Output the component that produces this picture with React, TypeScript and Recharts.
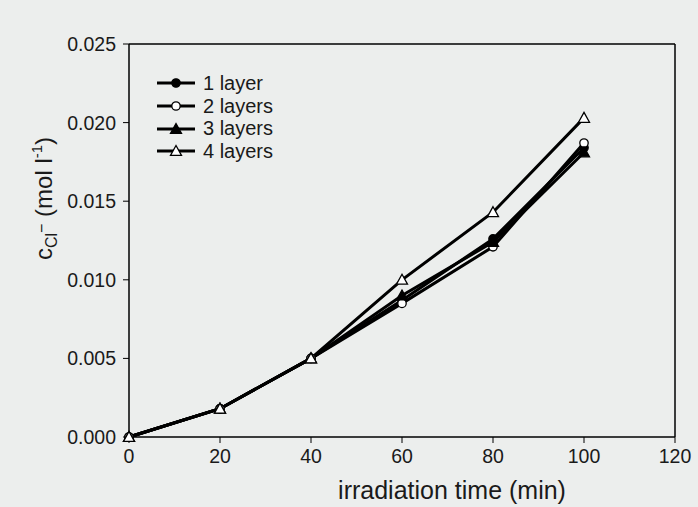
import { LineChart, Line, XAxis, YAxis, Legend, ReferenceLine } from 'recharts';

const times = [0, 20, 40, 60, 80, 100];
const layer1 = [0, 0.0018, 0.005, 0.0087, 0.0126, 0.0184];
const layer2 = [0, 0.0018, 0.005, 0.0085, 0.0121, 0.0187];
const layer3 = [0, 0.0018, 0.005, 0.009, 0.0124, 0.0181];
const layer4 = [0, 0.0018, 0.005, 0.01, 0.0143, 0.0203];
const xTicks = [0, 20, 40, 60, 80, 100, 120];
const yTicks = [0, 0.005, 0.01, 0.015, 0.02, 0.025];

const series = [
  { key: 'l1', name: '1 layer', shape: 'circle', filled: true },
  { key: 'l2', name: '2 layers', shape: 'circle', filled: false },
  { key: 'l3', name: '3 layers', shape: 'triangle', filled: true },
  { key: 'l4', name: '4 layers', shape: 'triangle', filled: false },
];

const data = times.map((t, i) => ({ t, l1: layer1[i], l2: layer2[i], l3: layer3[i], l4: layer4[i] }));

const FONT = '"Liberation Sans", Arial, sans-serif';
const INK = '#1a1a1a';
const BG = '#eceeed';

function Marker({ cx, cy, shape, filled }: { cx: number; cy: number; shape: string; filled: boolean }) {
  const fill = filled ? '#000' : '#fff';
  if (shape === 'circle') {
    return <circle cx={cx} cy={cy} r={4.2} fill={fill} stroke="#000" strokeWidth={1.3} />;
  }
  const s = 5.5;
  return (
    <path
      d={`M${cx},${cy - s} L${cx + s},${cy + s * 0.8} L${cx - s},${cy + s * 0.8} Z`}
      fill={fill}
      stroke="#000"
      strokeWidth={1.3}
    />
  );
}

function LegendBox() {
  return (
    <div style={{ fontFamily: FONT, fontSize: 20, color: INK }}>
      {series.map((s) => (
        <div key={s.key} style={{ display: 'flex', alignItems: 'center', height: 22.7 }}>
          <svg width={42} height={16} style={{ marginRight: 6 }}>
            <line x1={2} y1={8} x2={40} y2={8} stroke="#000" strokeWidth={3} />
            <Marker cx={21} cy={8} shape={s.shape} filled={s.filled} />
          </svg>
          <span>{s.name}</span>
        </div>
      ))}
    </div>
  );
}

function YTitle(props: any) {
  const vb = props.viewBox || { x: 0, y: 44, width: 129, height: 393 };
  const cx = vb.x + 52;
  const cy = vb.y + vb.height / 2 - 42;
  return (
    <text transform={`translate(${cx},${cy}) rotate(-90)`} textAnchor="middle" fontSize={24} fill={INK} fontFamily={FONT}>
      <tspan>c</tspan>
      <tspan fontSize={16} dy={5}>Cl</tspan>
      <tspan fontSize={16} dy={-10}>−</tspan>
      <tspan dy={5}> (mol l</tspan>
      <tspan fontSize={15} dy={-10}>-1</tspan>
      <tspan dy={10}>)</tspan>
    </text>
  );
}

function XTitle(props: any) {
  const vb = props.viewBox || { x: 129, y: 437, width: 546, height: 70 };
  return (
    <text x={vb.x + vb.width / 2 + 50} y={vb.y + 62} textAnchor="middle" fontSize={25} fill={INK} fontFamily={FONT}>
      irradiation time (min)
    </text>
  );
}

export default function App() {
  const tickStyle = { fontSize: 19.5, fill: INK, fontFamily: FONT };
  return (
    <div style={{ position: 'absolute', left: 0, top: 0, width: 698, height: 507, background: BG }}>
      <LineChart width={698} height={507} data={data} margin={{ top: 44, right: 23, left: 0, bottom: 0 }}>
        <XAxis
          dataKey="t"
          type="number"
          domain={[0, 120]}
          ticks={xTicks}
          height={70}
          tick={tickStyle}
          tickSize={6}
          tickMargin={6}
          axisLine={{ stroke: '#000', strokeWidth: 1.5 }}
          tickLine={{ stroke: '#000', strokeWidth: 1 }}
          label={{ content: XTitle }}
        />
        <YAxis
          type="number"
          domain={[0, 0.025]}
          ticks={yTicks}
          width={129}
          tick={tickStyle}
          tickSize={6}
          tickMargin={7}
          tickFormatter={(v: number) => v.toFixed(3)}
          axisLine={{ stroke: '#000', strokeWidth: 1.5 }}
          tickLine={{ stroke: '#000', strokeWidth: 1 }}
          label={{ content: YTitle }}
        />
        <ReferenceLine y={0.025} stroke="#000" strokeWidth={1.5} />
        <ReferenceLine x={120} stroke="#000" strokeWidth={1.5} />
        <Legend
          layout="vertical"
          align="center"
          verticalAlign="middle"
          content={() => <LegendBox />}
          wrapperStyle={{ left: 155, top: 72, width: 160 }}
        />
        {series.map((s) => (
          <Line
            key={s.key}
            dataKey={s.key}
            name={s.name}
            stroke="#000"
            strokeWidth={3}
            isAnimationActive={false}
            legendType="none"
            dot={(p: any) => <Marker key={`${s.key}-${p.index}`} cx={p.cx} cy={p.cy} shape={s.shape} filled={s.filled} />}
            activeDot={false}
          />
        ))}
      </LineChart>
    </div>
  );
}
